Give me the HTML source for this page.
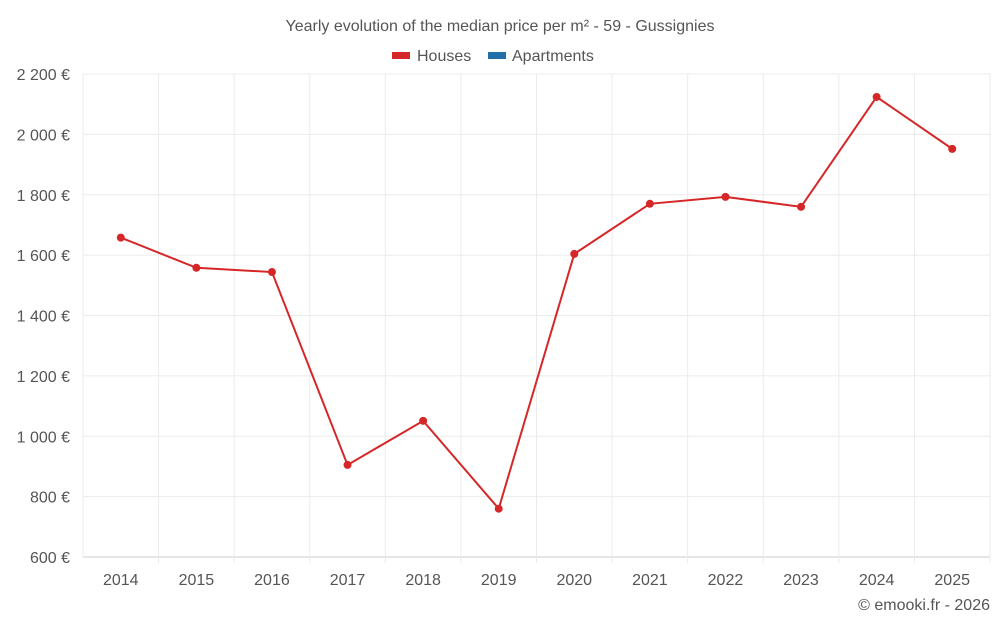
<!DOCTYPE html>
<html><head><meta charset="utf-8"><style>
body{margin:0;background:#fff;font-family:"Liberation Sans",sans-serif;}
svg text{font-family:"Liberation Sans",sans-serif;fill:#555;}
</style></head><body>
<svg id="chart" width="1000" height="625">
<text x="500" y="31" text-anchor="middle" font-size="16">Yearly evolution of the median price per m² - 59 - Gussignies</text>
<g>
<g><rect x="392" y="52" width="18" height="7" fill="#d62728"/><text x="417" y="61" font-size="16">Houses</text></g>
<g><rect x="488" y="52" width="18" height="7" fill="#1f6fa8"/><text x="512" y="61" font-size="16">Apartments</text></g>
</g>
<g id="grid"></g><g id="axes"></g><g id="series"></g>
<text x="990" y="610" text-anchor="end" font-size="16">© emooki.fr - 2026</text>
</svg>
<script>
const years=["2014","2015","2016","2017","2018","2019","2020","2021","2022","2023","2024","2025"];
const houses=[1658,1558,1544,905,1051,760,1604,1770,1793,1760,2124,1952];
const yTicks=[600,800,1000,1200,1400,1600,1800,2000,2200];
const L=83,R=990,T=74,B=557,yMin=600,yMax=2200;
const bw=(R-L)/years.length;
const xs=i=>L+bw*(i+0.5);
const ys=v=>B-(v-yMin)/(yMax-yMin)*(B-T);
const NS="http://www.w3.org/2000/svg";
function mk(tag,attrs,parent){const e=document.createElementNS(NS,tag);for(const k in attrs)e.setAttribute(k,attrs[k]);document.getElementById(parent).appendChild(e);return e;}
const fmt=v=>String(v).replace(/\B(?=(\d{3})+(?!\d))/g," ")+" €";
yTicks.forEach(v=>{
 const l=mk("line",{x1:L,x2:R,y1:ys(v),y2:ys(v),stroke:v===yMin?"#ccc":"#ebebeb"},"grid");
 
 
 const t=mk("text",{x:70,y:ys(v)+6,"text-anchor":"end","font-size":"16"},"axes");t.textContent=fmt(v);
 
 
});
for(let i=0;i<=years.length;i++){
 const l=mk("line",{x1:L+bw*i,x2:L+bw*i,y1:T,y2:B+(i>0?6:0),stroke:"#ebebeb"},"grid");
 
 
}
years.forEach((y,i)=>{
 const t=mk("text",{x:xs(i),y:585,"text-anchor":"middle","font-size":"16"},"axes");t.textContent=y;
 
 
});
const p=mk("polyline",{points:houses.map((v,i)=>xs(i)+","+ys(v)).join(" "),fill:"none",stroke:"#d62728","stroke-width":2},"series");


houses.forEach((v,i)=>{
 const c=mk("circle",{cx:xs(i),cy:ys(v),r:4,fill:"#d62728"},"series");
 
 
});
</script>
</body></html>
